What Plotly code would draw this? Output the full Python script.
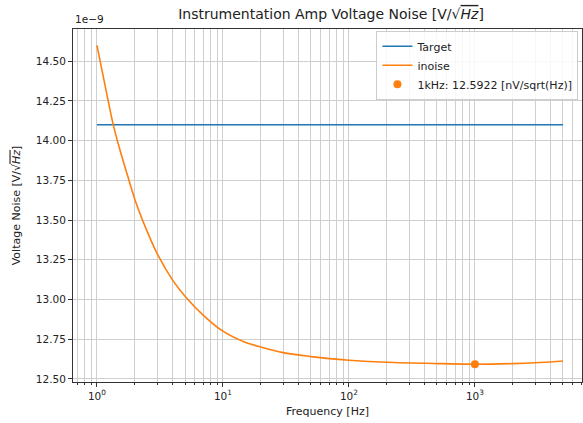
import plotly.graph_objects as go

# Data (values in nV/sqrt(Hz), axis shows them with 1e-9 offset)
freq_hz = [1, 1.2, 1.33, 1.5, 1.75, 2, 2.5, 3, 4, 5, 7, 10, 15, 20, 30, 50, 70, 100,
           200, 500, 1000, 2000, 3000, 5000]
inoise_nv = [14.60, 14.29, 14.12, 13.96, 13.78, 13.63, 13.43, 13.29, 13.12, 13.02,
             12.90, 12.80, 12.73, 12.70, 12.665, 12.64, 12.627, 12.617,
             12.604, 12.596, 12.5922, 12.596, 12.601, 12.612]
target_freq = [1, 5000]
target_nv = [14.1, 14.1]
marker_freq = [1000]
marker_nv = [12.5922]

x_ticks = [1, 10, 100, 1000]
x_ticktext = ["10<sup>0</sup>", "10<sup>1</sup>", "10<sup>2</sup>", "10<sup>3</sup>"]
y_ticks = [12.50, 12.75, 13.00, 13.25, 13.50, 13.75, 14.00, 14.25, 14.50]

BLUE = "#1f77b4"
ORANGE = "#ff7f0e"
GRID = "#cfcfcf"
AX = "#333333"
FONT = "DejaVu Sans"

minor_vals = []
for d in [0.1, 1, 10, 100, 1000]:
    for m in range(2, 10):
        minor_vals.append(m * d)

fig = go.Figure()
fig.add_trace(go.Scatter(x=target_freq, y=target_nv, mode="lines", name="Target",
                         line=dict(color=BLUE, width=1.6)))
fig.add_trace(go.Scatter(x=freq_hz, y=inoise_nv, mode="lines", name="inoise",
                         line=dict(color=ORANGE, width=1.6, shape="spline", smoothing=0.8)))
fig.add_trace(go.Scatter(x=marker_freq, y=marker_nv, mode="markers",
                         name="1kHz: 12.5922 [nV/sqrt(Hz)]",
                         marker=dict(color=ORANGE, size=8)))

fig.update_layout(
    width=583, height=423,
    margin=dict(l=73, r=1, t=29, b=41),
    paper_bgcolor="white", plot_bgcolor="white",
    font=dict(family=FONT, size=10, color="#222"),
    title=dict(text='Instrumentation Amp Voltage Noise [V/√<span style="text-decoration:overline"><i>Hz</i></span>]',
               x=(73 + 258) / 583, xanchor="center", y=1 - 14 / 423, yanchor="middle",
               font=dict(size=14, family=FONT, color="#222")),
    showlegend=True,
    legend=dict(x=0.993, y=0.995, xanchor="right", yanchor="top",
                bgcolor="rgba(255,255,255,0.85)", bordercolor="#cccccc", borderwidth=1,
                font=dict(size=11, family=FONT, color="#222"),
                tracegroupgap=0, itemwidth=30),
)

fig.update_xaxes(
    type="log", range=[-0.19, 3.85],
    tickvals=x_ticks, ticktext=x_ticktext,
    ticks="outside", ticklen=4, tickcolor=AX,
    tickfont=dict(size=10.5),
    showgrid=True, gridcolor=GRID, gridwidth=1,
    minor=dict(tickvals=minor_vals, ticks="outside", ticklen=2, tickcolor=AX,
               showgrid=True, gridcolor=GRID, gridwidth=1),
    showline=True, linecolor=AX, linewidth=1, mirror=True,
    zeroline=False,
    title=dict(text="Frequency [Hz]", standoff=6, font=dict(size=11)),
)
fig.update_yaxes(
    range=[12.480, 14.703],
    tickvals=y_ticks, ticktext=[f"{v:.2f}" for v in y_ticks],
    ticks="outside", ticklen=4, tickcolor=AX,
    tickfont=dict(size=10.5),
    showgrid=True, gridcolor=GRID, gridwidth=1,
    showline=True, linecolor=AX, linewidth=1, mirror=True,
    zeroline=False,
    title=dict(text='Voltage Noise [V/√<span style="text-decoration:overline"><i>Hz</i></span>]',
               standoff=12, font=dict(size=11)),
)

fig.add_annotation(text="1e−9", xref="paper", yref="paper", x=0, y=1,
                   xanchor="left", yanchor="bottom", yshift=2, showarrow=False,
                   font=dict(size=10.5, family=FONT, color="#222"))

fig.write_html("out.html")
